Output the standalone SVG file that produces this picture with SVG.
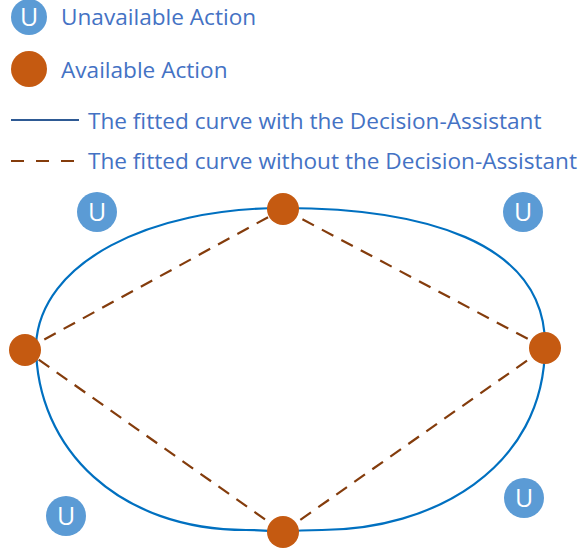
<svg xmlns="http://www.w3.org/2000/svg" width="579" height="550" viewBox="0 0 579 550">
<style>
.lbl{font-family:"Open Sans","Liberation Sans",sans-serif;font-size:22.6px;fill:#4472C4}
.u{fill:#5B9BD5}
.ut{font-family:"Open Sans","Liberation Sans",sans-serif;font-size:25px;fill:#fff;text-anchor:middle}
.a{fill:#C55A11}
.curve{fill:none;stroke:#0070C0;stroke-width:2.2}
.dash{fill:none;stroke:#843C0C;stroke-width:2.2;stroke-dasharray:13 9}
.ldash{fill:none;stroke:#843C0C;stroke-width:2.2;stroke-dasharray:13 12}
</style>
<g id="legend">
<circle class="u" cx="29" cy="17" r="18"/><text class="ut" x="29" y="26">U</text>
<text class="lbl" x="61" y="25">Unavailable Action</text>
<circle class="a" cx="29" cy="69" r="18"/>
<text class="lbl" x="61" y="78">Available Action</text>
<line x1="11" y1="120" x2="79" y2="120" stroke="#2E5A94" stroke-width="2"/>
<text class="lbl" x="88" y="129">The fitted curve with the Decision-Assistant</text>
<line class="ldash" x1="11" y1="161" x2="79" y2="161"/>
<text class="lbl" x="88" y="169">The fitted curve without the Decision-Assistant</text>
</g>
<g id="connectors">
<path class="curve" d="M36,345 C40,262 150,208 283,208 C420,208 545,240 545,345 C545,470 430,530 322,530 Q300,530 283,532 Q266,530 246,530 C120,530 36,450 36,345 Z"/>
<line class="dash" x1="25" y1="350" x2="283" y2="209"/>
<line class="dash" x1="283" y1="209" x2="545" y2="348"/>
<line class="dash" x1="545" y1="348" x2="283" y2="532"/>
<line class="dash" x1="283" y1="532" x2="25" y2="350"/>
</g>
<g id="u1"><circle class="u" cx="97" cy="212" r="20"/><text class="ut" x="97" y="221">U</text></g>
<g id="u2"><circle class="u" cx="523" cy="212" r="20"/><text class="ut" x="523" y="221">U</text></g>
<g id="u3"><circle class="u" cx="66" cy="516" r="20"/><text class="ut" x="66" y="525">U</text></g>
<g id="u4"><circle class="u" cx="524" cy="498" r="20"/><text class="ut" x="524" y="507">U</text></g>
<g id="a1"><circle class="a" cx="283" cy="209" r="16"/></g>
<g id="a2"><circle class="a" cx="25" cy="350" r="16"/></g>
<g id="a3"><circle class="a" cx="545" cy="348" r="16"/></g>
<g id="a4"><circle class="a" cx="283" cy="532" r="16"/></g>
</svg>
